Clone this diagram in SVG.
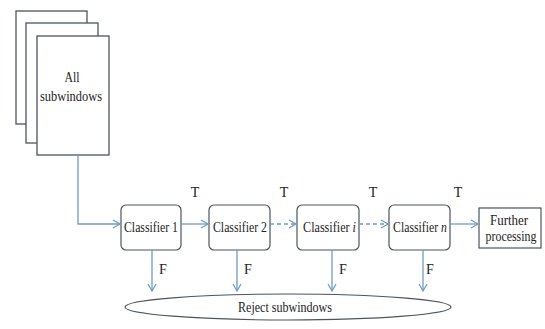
<svg xmlns="http://www.w3.org/2000/svg" width="545" height="329" viewBox="0 0 545 329">
<style>
.pg{fill:#fff;stroke:#4a5560;stroke-width:1.3}
.box{fill:#fff;stroke:#4a5560;stroke-width:1.2}
.t{font-family:"Liberation Serif",serif;font-size:14px;fill:#222;text-anchor:middle}
.it{font-style:italic}
.c{fill:none;stroke:#6f9cc4;stroke-width:1.3}
.d{stroke-dasharray:4,3}
</style>
<defs>
<marker id="ah" markerWidth="10" markerHeight="10" refX="8" refY="5" orient="auto" markerUnits="userSpaceOnUse">
<path d="M1,1 L8,5 L1,9" fill="none" stroke="#6f9cc4" stroke-width="1.3"/>
</marker>
</defs>
<rect width="545" height="329" fill="#fff"/>
<g id="all-subwindows">
<rect class="pg" x="16" y="11" width="71" height="113"/>
<rect class="pg" x="26" y="23" width="72" height="120"/>
<rect class="pg" x="37" y="36" width="72" height="119"/>
<text class="t" x="72" y="82" textLength="15" lengthAdjust="spacingAndGlyphs">All</text>
<text class="t" x="71" y="101" textLength="62" lengthAdjust="spacingAndGlyphs">subwindows</text>
</g>
<g id="classifier1">
<rect class="box" x="121" y="205" width="60" height="45" rx="5"/>
<text class="t" x="151" y="232" textLength="54" lengthAdjust="spacingAndGlyphs">Classifier 1</text>
</g>
<g id="classifier2">
<rect class="box" x="209" y="205" width="61" height="45" rx="5"/>
<text class="t" x="240" y="232" textLength="54" lengthAdjust="spacingAndGlyphs">Classifier 2</text>
</g>
<g id="classifieri">
<rect class="box" x="297" y="205" width="62" height="45" rx="5"/>
<text class="t" transform="translate(329.500,232) scale(0.868,1)">Classifier <tspan class="it">i</tspan></text>
</g>
<g id="classifiern">
<rect class="box" x="389" y="205" width="61" height="45" rx="5"/>
<text class="t" transform="translate(420,232) scale(0.84,1)">Classifier <tspan class="it">n</tspan></text>
</g>
<g id="further">
<rect class="box" x="479" y="208" width="62" height="40"/>
<text class="t" x="509" y="225" textLength="38" lengthAdjust="spacingAndGlyphs">Further</text>
<text class="t" x="511" y="241" textLength="51" lengthAdjust="spacingAndGlyphs">processing</text>
</g>
<g id="reject">
<ellipse class="box" cx="288" cy="307" rx="163" ry="13"/>
<text class="t" x="285" y="312" textLength="94" lengthAdjust="spacingAndGlyphs">Reject subwindows</text>
</g>
<g id="connectors">
<path class="c" d="M78,155 V224 H120" marker-end="url(#ah)"/>
<path class="c" d="M181,224 H208" marker-end="url(#ah)"/>
<path class="c d" d="M270,224 H296" marker-end="url(#ah)"/>
<path class="c d" d="M359,224 H388" marker-end="url(#ah)"/>
<path class="c" d="M450,224 H478" marker-end="url(#ah)"/>
<path class="c" d="M152,250 V291" marker-end="url(#ah)"/>
<path class="c" d="M237,250 V291" marker-end="url(#ah)"/>
<path class="c" d="M332,250 V291" marker-end="url(#ah)"/>
<path class="c" d="M423,250 V291" marker-end="url(#ah)"/>
<text class="t" x="195" y="197">T</text>
<text class="t" x="284" y="197">T</text>
<text class="t" x="373" y="197">T</text>
<text class="t" x="458" y="197">T</text>
<text class="t" x="163" y="274">F</text>
<text class="t" x="248" y="274">F</text>
<text class="t" x="343" y="274">F</text>
<text class="t" x="430" y="274">F</text>
</g>
</svg>
